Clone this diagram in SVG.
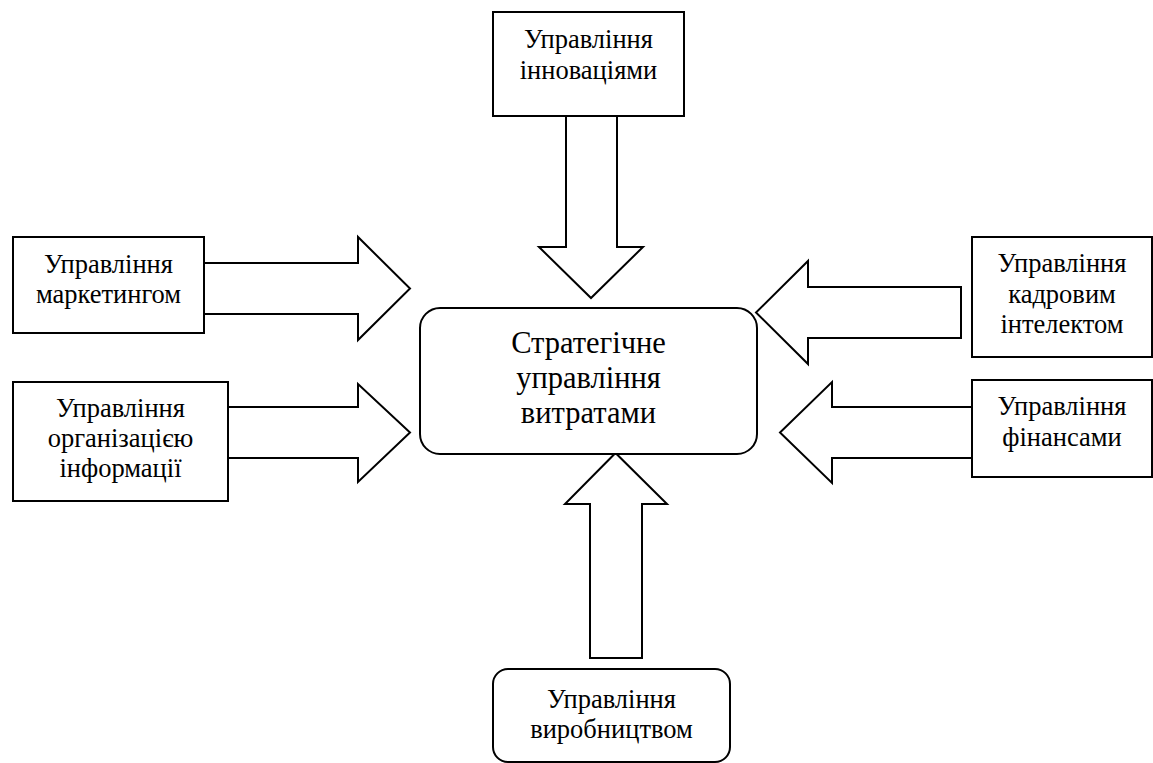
<svg xmlns="http://www.w3.org/2000/svg" width="1153" height="763" viewBox="0 0 1153 763">
<style>
.box{fill:#fff;stroke:#000;stroke-width:2}
.arr{fill:#fff;stroke:#000;stroke-width:2;stroke-linejoin:miter}
.t{font-size:26.5px;fill:#000;text-anchor:middle}
.tb{font-size:30.5px;fill:#000;text-anchor:middle}
</style>
<rect width="1153" height="763" fill="#fff"/>
<g id="connectors">
<polygon class="arr" points="566,116 617,116 617,247 643,247 591,298 539,247 566,247"/>
<polygon class="arr" points="204,263 358,263 358,237 410,288.5 358,340 358,314 204,314"/>
<polygon class="arr" points="228,407 358,407 358,384 410,432.5 358,482 358,458 228,458"/>
<polygon class="arr" points="961,287 808,287 808,261 756,312.5 808,364 808,338 961,338"/>
<polygon class="arr" points="972,407 832,407 832,382 780,432.5 832,483 832,458 972,458"/>
<polygon class="arr" points="590,658 642,658 642,504 667,504 615.5,453 565,504 590,504"/>
</g>
<g font-family="Liberation Serif, DejaVu Serif, serif">
<g id="node-innovation">
<rect class="box" x="493" y="12" width="191" height="104"/>
<text class="t" x="588.5" y="48">Управління</text>
<text class="t" x="588.5" y="79">інноваціями</text>
</g>
<g id="node-marketing">
<rect class="box" x="13" y="237" width="191" height="96"/>
<text class="t" x="108.5" y="273">Управління</text>
<text class="t" x="108.5" y="303">маркетингом</text>
</g>
<g id="node-information">
<rect class="box" x="13" y="382" width="215" height="119"/>
<text class="t" x="120.5" y="417">Управління</text>
<text class="t" x="120.5" y="447">організацією</text>
<text class="t" x="120.5" y="477">інформації</text>
</g>
<g id="node-center">
<rect class="box" x="420" y="308" width="337" height="146" rx="20" ry="20"/>
<text class="tb" x="588.5" y="353">Стратегічне</text>
<text class="tb" x="588.5" y="388">управління</text>
<text class="tb" x="588.5" y="423">витратами</text>
</g>
<g id="node-personnel">
<rect class="box" x="972" y="237" width="180" height="120"/>
<text class="t" x="1062" y="272">Управління</text>
<text class="t" x="1062" y="303">кадровим</text>
<text class="t" x="1062" y="333">інтелектом</text>
</g>
<g id="node-finance">
<rect class="box" x="972" y="380" width="180" height="97"/>
<text class="t" x="1062" y="415">Управління</text>
<text class="t" x="1062" y="446">фінансами</text>
</g>
<g id="node-production">
<rect class="box" x="493" y="669" width="237" height="93" rx="15" ry="15"/>
<text class="t" x="611.5" y="708">Управління</text>
<text class="t" x="611.5" y="738">виробництвом</text>
</g>
</g>
</svg>
